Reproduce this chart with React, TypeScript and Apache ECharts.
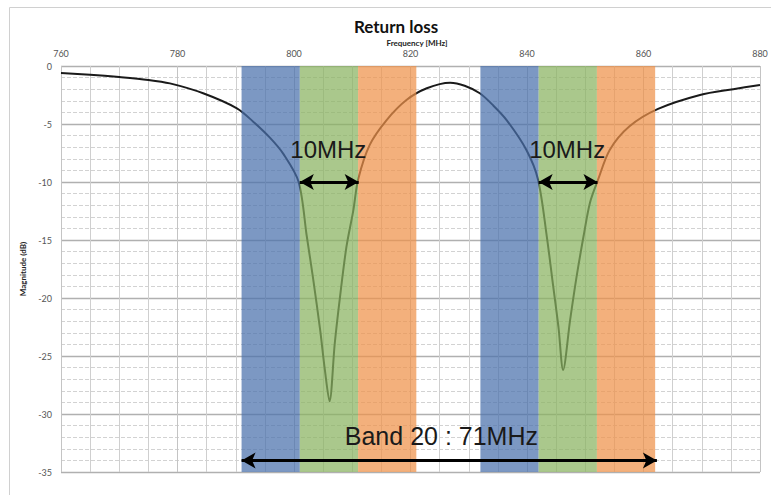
import React, { useEffect, useRef } from "react";
import * as echarts from "echarts";

// Return loss curve (frequency in MHz, magnitude in dB)
const freqMHz = [
  760, 765, 770, 775, 778.7, 784.4, 790.2, 793.0, 795.9, 798.2, 800.8,
  802.2, 803.3, 804.5, 805.3, 806.1, 807.0, 807.9, 809.0, 810.2, 811.0, 813.0,
  815.9, 819.3, 822.8, 826.8, 829.3, 831.9, 834.2, 836.5, 839.9, 841.9, 843.4,
  844.5, 845.4, 846.2, 847.4, 848.5, 849.7, 850.8, 852.2, 854.2, 857.6, 862.5,
  869.7, 875.4, 880,
];
const magnitudeDb = [
  -0.6, -0.75, -0.95, -1.2, -1.5, -2.35, -3.65, -4.8, -6.2, -7.6, -10.0,
  -14.7, -18.4, -22.8, -26.2, -28.9, -23.9, -19.9, -15.6, -12.4, -9.8, -6.8,
  -4.66, -2.93, -1.92, -1.44, -1.7, -2.35, -3.4, -4.66, -7.24, -9.8, -14.7,
  -19.0, -22.5, -26.2, -21.9, -18.2, -14.7, -11.8, -9.8, -7.24, -5.2, -3.7,
  -2.5, -2.0, -1.64,
];

// Coloured sub-bands (MHz)
const bandStarts = [791, 801, 811, 832, 842, 852];
const bandEnds = [801, 811, 821, 842, 852, 862];
const bandColors = ["#4a70ac", "#89b35f", "#ee914a", "#4a70ac", "#89b35f", "#ee914a"];

// Annotations
const channelArrowStarts = [801.0, 842.0];
const channelArrowEnds = [811.1, 852.1];
const channelArrowLevel = -10;
const channelLabel = "10MHz";
const channelLabelX = [805.9, 846.9];
const channelLabelY = -7.2;
const bandArrow = [791, 862.3];
const bandArrowLevel = -34;
const bandLabel = "Band 20 : 71MHz";
const bandLabelPos = [825.3, -31.9];

// Axes
const xMin = 760;
const xMax = 880;
const xStep = 20;
const yMin = -35;
const yMax = 0;
const yStep = 5;

export default function App() {
  const ref = useRef<HTMLDivElement>(null);
  useEffect(() => {
    if (!ref.current) return;
    const chart = echarts.init(ref.current, null, { renderer: "svg" });
    const curve = freqMHz.map((f, i) => [f, magnitudeDb[i]]);
    const annoFont = "'Liberation Sans', Arial, sans-serif";
    chart.setOption({
      animation: false,
      backgroundColor: "#ffffff",
      graphic: [
        {
          type: "rect",
          shape: { x: 9.5, y: 7.5, width: 800, height: 520 },
          style: { fill: "none", stroke: "#d0d0d0", lineWidth: 1 },
          silent: true,
        },
        {
          type: "text",
          x: 396,
          y: 26,
          style: {
            text: "Return loss",
            fontFamily: "Lato, sans-serif",
            fontWeight: "bold",
            fontSize: 17,
            fill: "#111",
            textAlign: "center",
            textVerticalAlign: "middle",
          },
        },
        {
          type: "text",
          x: 417,
          y: 43,
          style: {
            text: "Frequency [MHz]",
            fontFamily: "Lato, sans-serif",
            fontWeight: "bold",
            fontSize: 8,
            fill: "#222",
            textAlign: "center",
            textVerticalAlign: "middle",
          },
        },
      ],
      grid: { left: 61, top: 66, right: 11, bottom: 23 },
      xAxis: {
        type: "value",
        position: "top",
        min: xMin,
        max: xMax,
        interval: xStep,
        axisLine: { show: false },
        axisTick: { show: false },
        axisLabel: { fontSize: 9, color: "#555", margin: 8, fontFamily: "Lato, sans-serif" },
        splitLine: { show: true, lineStyle: { color: "#c4c4c4", width: 1 } },
        minorTick: { show: false, splitNumber: 4 },
        minorSplitLine: { show: true, lineStyle: { color: "#cfcfcf", width: 1 } },
      },
      yAxis: {
        type: "value",
        min: yMin,
        max: yMax,
        interval: yStep,
        axisLine: { show: false },
        axisTick: { show: false },
        axisLabel: { fontSize: 9, color: "#555", margin: 9, fontFamily: "Lato, sans-serif" },
        splitLine: { show: true, lineStyle: { color: "#b0b0b0", width: 1.3 } },
        minorTick: { show: false, splitNumber: 5 },
        minorSplitLine: { show: true, lineStyle: { color: "#d2d2d2", width: 1, type: "dashed" } },
        name: "Magnitude (dB)",
        nameLocation: "middle",
        nameGap: 31,
        nameRotate: 90,
        nameTextStyle: { fontSize: 8, fontWeight: "bold", color: "#222", fontFamily: "Lato, sans-serif" },
      },
      series: [
        {
          type: "line",
          data: curve,
          showSymbol: false,
          smooth: 0.3,
          z: 2,
          lineStyle: { color: "#1a1a1a", width: 2 },
        },
        {
          type: "line",
          data: [],
          z: 3,
          markArea: {
            z: 3,
            silent: true,
            data: bandStarts.map((s, i) => [
              { xAxis: s, itemStyle: { color: bandColors[i], opacity: 0.72 } },
              { xAxis: bandEnds[i] },
            ]),
          },
          markLine: {
            z: 6,
            silent: true,
            symbol: ["arrow", "arrow"],
            symbolSize: [12, 14],
            label: { show: false },
            lineStyle: { color: "#000", width: 3, type: "solid" },
            data: [
              ...channelArrowStarts.map((s, i) => [
                { coord: [s, channelArrowLevel] },
                { coord: [channelArrowEnds[i], channelArrowLevel] },
              ]),
              [{ coord: [bandArrow[0], bandArrowLevel] }, { coord: [bandArrow[1], bandArrowLevel] }],
            ],
          },
          markPoint: {
            z: 6,
            silent: true,
            symbol: "circle",
            symbolSize: 1,
            itemStyle: { color: "rgba(0,0,0,0)" },
            label: {
              show: true,
              position: "inside",
              formatter: "{b}",
              color: "#1a1a1a",
              fontFamily: annoFont,
              fontSize: 24,
            },
            data: [
              ...channelLabelX.map((x) => ({ name: channelLabel, coord: [x, channelLabelY] })),
              {
                name: bandLabel,
                coord: bandLabelPos,
                label: { fontSize: 25 },
              },
            ],
          },
        },
      ],
    });
    return () => chart.dispose();
  }, []);
  return (
    <div
      ref={ref}
      style={{ position: "absolute", left: 0, top: 0, width: 771, height: 495 }}
    />
  );
}
